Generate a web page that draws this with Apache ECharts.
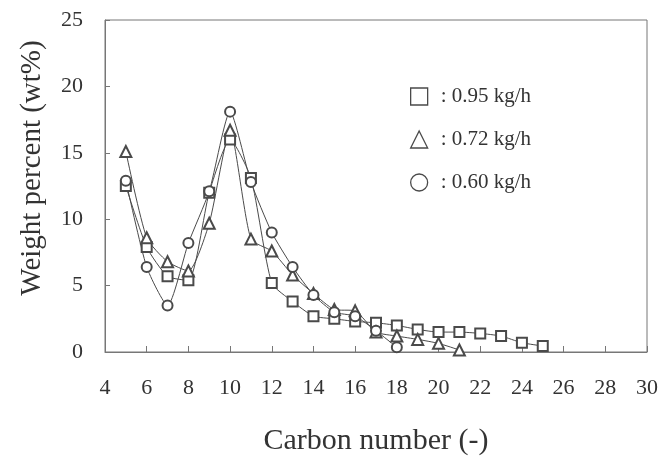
<!DOCTYPE html>
<html>
<head>
<meta charset="utf-8">
<script src="https://cdn.jsdelivr.net/npm/echarts@6/dist/echarts.min.js"></script>
<style>
  html, body { margin: 0; padding: 0; background: #fff; }
  #chart { width: 668px; height: 461px; }
</style>
</head>
<body>
<div id="chart"></div>
<script>
// carbon number vs weight percent
const carbon95 = [5, 6, 7, 8, 9, 10, 11, 12, 13, 14, 15, 16, 17, 18, 19, 20, 21, 22, 23, 24, 25]
const wt95 = [12.5, 7.9, 5.7, 5.4, 12.0, 16.0, 13.1, 5.2, 3.8, 2.7, 2.5, 2.3, 2.2, 2.0, 1.7, 1.5, 1.5, 1.4, 1.2, 0.7, 0.45]
const carbon72 = [5, 6, 7, 8, 9, 10, 11, 12, 13, 14, 15, 16, 17, 18, 19, 20, 21]
const wt72 = [15.1, 8.6, 6.8, 6.1, 9.7, 16.7, 8.5, 7.6, 5.8, 4.4, 3.2, 3.1, 1.5, 1.2, 0.95, 0.65, 0.15]
const carbon60 = [5, 6, 7, 8, 9, 10, 11, 12, 13, 14, 15, 16, 17, 18]
const wt60 = [12.9, 6.4, 3.5, 8.2, 12.1, 18.1, 12.8, 9.0, 6.4, 4.3, 3.0, 2.7, 1.6, 0.35]
const seriesNames = ['0.95 kg/h', '0.72 kg/h', '0.60 kg/h']
const xTicks = [4, 30, 2]
const yTicks = [0, 25, 5]

const font = 'Liberation Serif, Times New Roman, serif'
const ink = '#4a4a4a'

function pairs (xs, ys) {
    return xs.map((x, i) => [x, ys[i]])
}

function makeSeries (name, symbol, xs, ys) {
    return {
        name: name,
        type: 'line',
        data: pairs(xs, ys),
        symbol: symbol,
        symbolSize: symbol === 'emptyTriangle' ? 11 : 10,
        showAllSymbol: true,
        smooth: 0.2,
        lineStyle: { color: ink, width: 1 },
        itemStyle: { color: ink, borderColor: ink, borderWidth: 1 },
        emphasis: { disabled: true },
        animation: false
    }
}

const legendIcon = { color: '#fff', borderColor: ink, borderWidth: 1.3 }

const options = {
    backgroundColor: '#fff',
    grid: {
        show: true,
        left: 105,
        right: 21,
        top: 20,
        bottom: 109,
        borderColor: '#777',
        borderWidth: 1
    },
    legend: {
        orient: 'vertical',
        left: 405,
        top: 81,
        itemWidth: 17,
        itemHeight: 17,
        itemGap: 22,
        textStyle: { fontFamily: font, fontSize: 21, color: '#333', padding: [0, 0, 0, 8] },
        formatter: (n) => ':\u00a00' + n.slice(1),
        data: [
            { name: seriesNames[0], icon: 'rect', itemStyle: legendIcon },
            { name: seriesNames[1], icon: 'triangle', itemStyle: legendIcon },
            { name: seriesNames[2], icon: 'circle', itemStyle: legendIcon }
        ],
        selectedMode: false
    },
    xAxis: {
        type: 'value',
        min: xTicks[0],
        max: xTicks[1],
        interval: xTicks[2],
        name: 'Carbon number (-)',
        nameLocation: 'middle',
        nameGap: 74,
        nameTextStyle: { fontFamily: font, fontSize: 30, color: '#333' },
        axisLine: { lineStyle: { color: '#777', width: 1 } },
        axisTick: { inside: true, length: 6, lineStyle: { color: '#777' } },
        axisLabel: { fontFamily: font, fontSize: 22, color: '#333', margin: 25 },
        splitLine: { show: false }
    },
    yAxis: {
        type: 'value',
        min: yTicks[0],
        max: yTicks[1],
        interval: yTicks[2],
        name: 'Weight percent (wt%)',
        nameLocation: 'middle',
        nameGap: 58,
        nameTextStyle: { fontFamily: font, fontSize: 29, color: '#333', padding: [0, 0, 0, 36] },
        axisLine: { show: true, lineStyle: { color: '#777', width: 1 } },
        axisTick: { show: true, inside: true, length: 5, lineStyle: { color: '#777' } },
        axisLabel: { fontFamily: font, fontSize: 22, color: '#333', margin: 22 },
        splitLine: { show: false }
    },
    series: [
        makeSeries(seriesNames[0], 'emptyRect', carbon95, wt95),
        makeSeries(seriesNames[1], 'emptyTriangle', carbon72, wt72),
        makeSeries(seriesNames[2], 'emptyCircle', carbon60, wt60)
    ]
}

let chart = echarts.init(document.getElementById('chart'))
chart.setOption(options, true)
</script>
</body>
</html>
